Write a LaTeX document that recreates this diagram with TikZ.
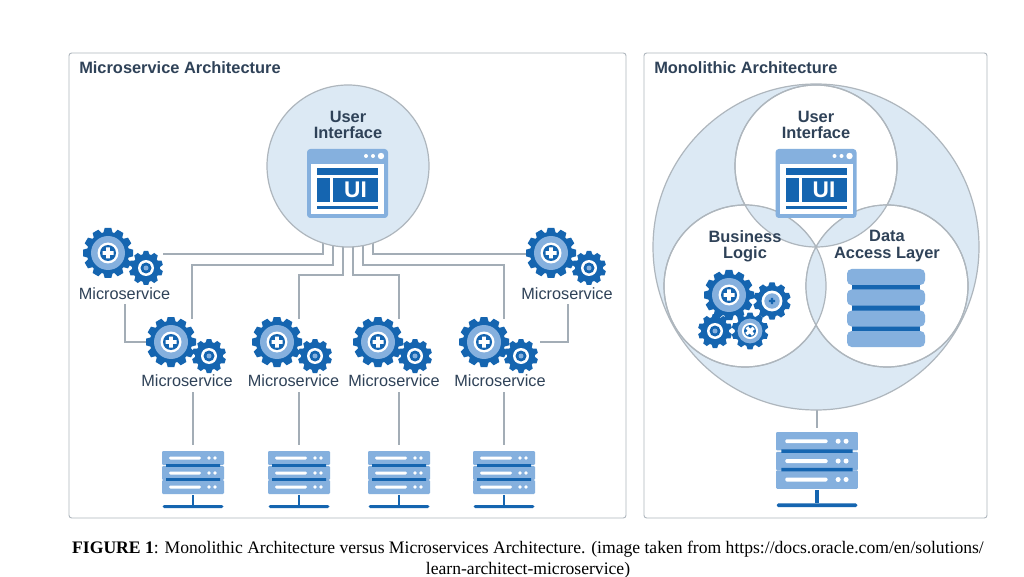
\documentclass[tikz,border=0pt]{standalone}
\usepackage{fontspec}
\setmainfont{Liberation Serif}
\newfontfamily\arialf{Liberation Sans}
\definecolor{blued}{HTML}{1565B0}
\definecolor{bluem}{HTML}{85B0DE}
\definecolor{bluel}{HTML}{DCE9F4}
\definecolor{linec}{HTML}{A3ADB6}
\definecolor{framec}{HTML}{AEB6BD}
\definecolor{textc}{HTML}{2F4258}
\tikzset{
  panel/.style={draw=framec,line width=.7pt,rounded corners=2pt,fill=white},
  conn/.style={draw=linec,line width=1.1pt},
  ring/.style={draw=framec,line width=.9pt},
  titletext/.style={font=\arialf\bfseries\fontsize{12.3}{14}\selectfont,text=textc,anchor=west,inner sep=0pt},
  head/.style={font=\arialf\bfseries\fontsize{12.3}{12.2}\selectfont,text=textc,align=center,inner sep=0pt},
  svc/.style={font=\arialf\fontsize{12.2}{14}\selectfont,text=textc,inner sep=0pt},
  captext/.style={font=\fontsize{13.2}{15}\selectfont,text=black,inner sep=0pt},
  biggear/.pic={
    \foreach \a in {0,30,...,330}{\fill[blued,rotate=\a] (-5,-19) -- (-3.3,-25) -- (3.3,-25) -- (5,-19) -- cycle;}
    \fill[blued] (0,0) circle (21);
    \fill[bluem] (0,0) circle (17);
    \fill[white] (0,0) circle (10.5);
    \fill[blued] (0,0) circle (8);
    \fill[white] (-5.5,-1.8) rectangle (5.5,1.8) (-1.8,-5.5) rectangle (1.8,5.5);
  },
  smallgear/.pic={
    \foreach \a in {0,36,...,324}{\fill[blued,rotate=\a] (-3.6,-13) -- (-2.2,-17) -- (2.2,-17) -- (3.6,-13) -- cycle;}
    \fill[blued] (0,0) circle (14);
    \fill[white] (0,0) circle (8);
    \fill[blued] (0,0) circle (5.5);
    \fill[bluem] (0,0) circle (2.5);
  },
  midgear/.pic={
    \foreach \a in {0,36,...,324}{\fill[blued,rotate=\a] (-3.6,-13) -- (-2.2,-17) -- (2.2,-17) -- (3.6,-13) -- cycle;}
    \fill[blued] (0,0) circle (14);
    \fill[white] (0,0) circle (9.5);
    \fill[bluem] (0,0) circle (7);
    \fill[blued] (-2.8,-1) rectangle (2.8,1) (-1,-2.8) rectangle (1,2.8);
  },
  crossgear/.pic={
    \foreach \a in {0,36,...,324}{\fill[blued,rotate=\a] (-3.6,-13) -- (-2.2,-17) -- (2.2,-17) -- (3.6,-13) -- cycle;}
    \fill[blued] (0,0) circle (14);
    \fill[bluem] (0,0) circle (11.5);
    \fill[white] (0,0) circle (7.5);
    \fill[blued] (0,0) circle (5.5);
    \fill[white,rotate=40] (-4.5,-1.5) rectangle (4.5,1.5) (-1.5,-4.5) rectangle (1.5,4.5);
  },
  serverpic/.pic={
    \foreach \t in {0,15,29}{
      \fill[bluem,rounded corners=.8pt] (-31,\t) rectangle (31,\t+14);
      \fill[white,rounded corners=1pt] (-24,\t+5.5) rectangle (8,\t+8.5);
      \fill[white] (16,\t+7) circle (1.9) (22,\t+7) circle (1.9);
    }
    \fill[blued] (-27,13.2) rectangle (27,15.8) (-27,27.2) rectangle (27,29.8);
    \fill[blued] (-1.3,44) rectangle (1.3,54);
    \fill[blued,rounded corners=1.2pt] (-30.5,54) rectangle (30.5,57);
  },
  uiwin/.pic={
    \fill[bluem,rounded corners=2.5pt] (0,0) rectangle (81,69);
    \fill[white] (4,15) rectangle (77,65);
    \fill[white] (59,7) circle (2) (66,7) circle (2) (74,7) circle (3.2);
    \fill[blued] (10,19) rectangle (71,26);
    \fill[blued] (10,29) rectangle (23,53);
    \fill[blued] (26,29) rectangle (71,53);
    \fill[blued] (10,57) rectangle (71,60);
    \node[font=\arialf\bfseries\fontsize{17}{17}\selectfont,text=white,inner sep=0pt] at (48.5,41) {UI};
  },
}
\begin{document}
\begin{tikzpicture}[x=.75pt,y=-.75pt]
\useasboundingbox (0,0) rectangle (1024,577);
\fill[white] (0,0) rectangle (1024,577);
\node[panel,minimum width=417.75pt,minimum height=348.75pt,inner sep=0pt] (leftpanel) at (347.5,285.5) {};
\node[panel,minimum width=257.25pt,minimum height=348.75pt,inner sep=0pt] (rightpanel) at (815.5,285.5) {};
\node[titletext] (ltitle) at (79,68) {Microservice Architecture};
\node[titletext] (rtitle) at (654,68) {Monolithic Architecture};

% named connector ends
\coordinate (uL1) at (323,230);
\coordinate (uL2) at (333,230);
\coordinate (uL3) at (343,230);
\coordinate (uR3) at (353,230);
\coordinate (uR2) at (363,230);
\coordinate (uR1) at (373,230);
\coordinate (gTL) at (163,254);
\coordinate (gTR) at (527,254);
\coordinate (gA) at (192,319);
\coordinate (gB) at (299,319);
\coordinate (gC) at (399,319);
\coordinate (gD) at (504,319);
\coordinate (gAw) at (146,342);
\coordinate (gDe) at (540,342);
\coordinate (sA) at (193,445);
\coordinate (sB) at (299,445);
\coordinate (sC) at (399,445);
\coordinate (sD) at (504,445);
\coordinate (sM) at (817,428);

\node[svc] (m0) at (124.5,294) {Microservice};
\node[svc] (m5) at (567,294) {Microservice};
\node[svc] (m1) at (187,381) {Microservice};
\node[svc] (m2) at (293.5,381) {Microservice};
\node[svc] (m3) at (394,381) {Microservice};
\node[svc] (m4) at (500,381) {Microservice};

\draw[conn] (uL1) |- (gTL);
\draw[conn] (uL2) -- (333,265) -| (gA);
\draw[conn] (uL3) -- (343,275) -| (gB);
\draw[conn] (uR3) -- (353,275) -| (gC);
\draw[conn] (uR2) -- (363,265) -| (gD);
\draw[conn] (uR1) |- (gTR);
\draw[conn] (125,304) |- (gAw);
\draw[conn] (568,304) |- (gDe);
\draw[conn] (193,392) -- (sA);
\draw[conn] (299,392) -- (sB);
\draw[conn] (399,392) -- (sC);
\draw[conn] (504,392) -- (sD);

\node[circle,ring,fill=bluel,minimum size=121.5pt,inner sep=0pt] (ui) at (348,166) {};
\pic at (307,149) {uiwin};
\node[head] (uil) at (348,125) {User\\Interface};

\foreach \x/\y in {108/253,551/253,171/342,277/342,378/342,484/342}{\pic at (\x,\y) {biggear};}
\foreach \x/\y in {146/268,589/268,209/356,315/356,415/356,521/356}{\pic at (\x,\y) {smallgear};}

\foreach \x in {193,299,399,504}{\pic at (\x,451) {serverpic};}

% monolith
\draw[conn] (817,405) -- (sM);
\node[circle,ring,fill=bluel,minimum size=244.5pt,inner sep=0pt] (big) at (816,247) {};
\node[circle,ring,fill=white,minimum size=121.5pt,inner sep=0pt] (cu) at (816,166) {};
\node[circle,ring,fill=white,minimum size=121.5pt,inner sep=0pt] (cb) at (745,286) {};
\node[circle,ring,fill=white,minimum size=121.5pt,inner sep=0pt] (cd) at (887,286) {};
\begin{scope}
  \clip (816,166) circle (81);
  \fill[bluel] (745,286) circle (81) (887,286) circle (81);
\end{scope}
\begin{scope}
  \clip (745,286) circle (81);
  \fill[bluel] (887,286) circle (81);
\end{scope}
\draw[ring] (816,166) circle (81) (745,286) circle (81) (887,286) circle (81);
\pic at (775.5,149) {uiwin};
\node[head] (cul) at (816,125) {User\\Interface};
\node[head] (cbl) at (745,246) {Business\\Logic};
\node[head] (cdl) at (887,246) {Data\\Access Layer};
\pic at (729,295) {biggear};
\pic[scale=1.1] at (772,301) {midgear};
\pic at (715,331) {smallgear};
\pic[scale=1.08] at (750,331) {crossgear};
% database
\fill[blued] (852,280) rectangle (920,335);
\foreach \t in {269,289.5,310.5,331}{\fill[bluem,rounded corners=3.5pt] (847,\t) rectangle (925,\t+16);}
\pic[scale=1.32] at (817,432) {serverpic};

\node[captext] (c1) at (528,549.5) {\textbf{FIGURE 1}: Monolithic Architecture versus Microservices Architecture. (image taken from https://docs.oracle.com/en/solutions/};
\node[captext] (c2) at (528,570) {learn-architect-microservice)};
\end{tikzpicture}
\end{document}
